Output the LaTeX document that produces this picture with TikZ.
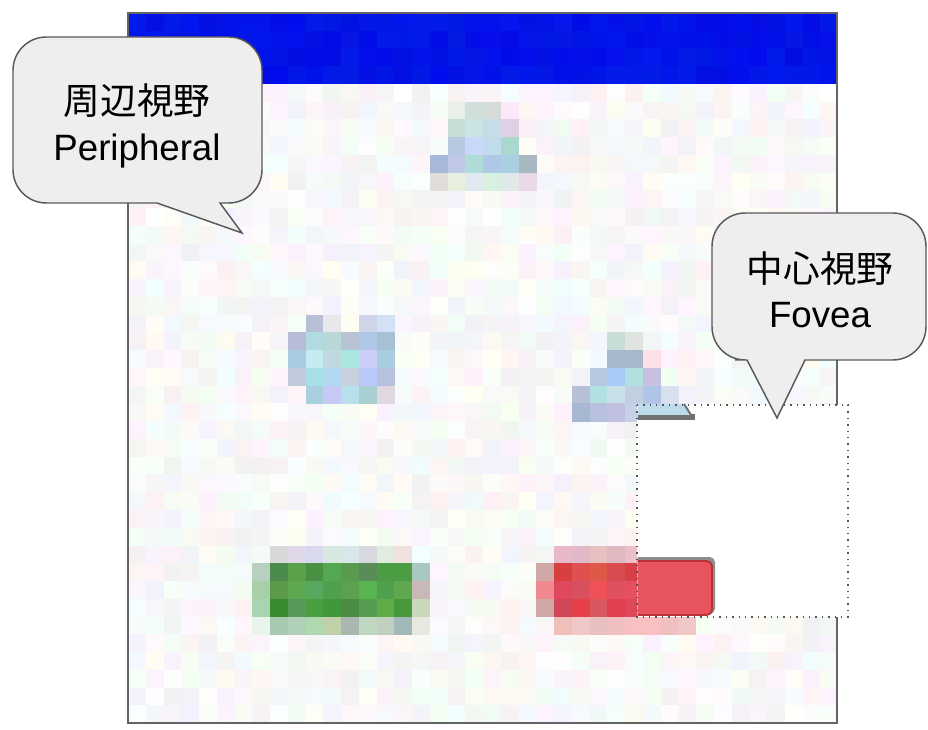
\documentclass[tikz,border=0pt]{standalone}
\usepackage{fontspec}
\setmainfont{Liberation Sans}
\newfontfamily\jpfont{Noto Sans CJK JP}
\usetikzlibrary{calc}

\definecolor{bubblefill}{HTML}{EEEEEE}
\definecolor{bubbleline}{HTML}{595959}
\definecolor{frameline}{HTML}{646464}
\definecolor{dotline}{HTML}{555555}
\definecolor{skyfill}{HTML}{BCDCEC}
\definecolor{shadowgray}{HTML}{707070}
\definecolor{redfill}{HTML}{E8545E}
\definecolor{redline}{HTML}{B8303C}

\newcommand\pxsize{17.75}

\begin{document}
\begin{tikzpicture}[
    x=0.75pt, y=-0.75pt,
    bubble/.style={fill=bubblefill, draw=bubbleline, line width=1.1pt},
    bubble text/.style={align=center, inner sep=0pt, font=\fontsize{27.5}{34}\selectfont},
    frame/.style={draw=frameline, line width=1.2pt},
    fovea/.style={fill=white, draw=dotline, line width=1.1pt, dash pattern=on 1.1pt off 3.7pt}
  ]
    \useasboundingbox (0,0) rectangle (928,730);
    \pgfmathsetseed{4242}
    % blue title bar
    \foreach \col in {0,...,39} {
      \foreach \row in {0,...,3} {
        \pgfmathrandominteger{\rv}{0}{4}
        \pgfmathrandominteger{\gv}{12}{26}
        \pgfmathrandominteger{\bv}{228}{238}
        \definecolor{cellcol}{RGB}{\rv,\gv,\bv}
        \fill[cellcol] ({128+\col*\pxsize},{13+\row*\pxsize}) rectangle ++(\pxsize+0.4,\pxsize+0.4);
      }
    }
    % faint noise of the low resolution screen
    \foreach \col in {0,...,39} {
      \foreach \row in {4,...,39} {
        \pgfmathrandominteger{\rv}{241}{255}
        \pgfmathrandominteger{\gv}{241}{255}
        \pgfmathrandominteger{\bv}{241}{255}
        \definecolor{cellcol}{RGB}{\rv,\gv,\bv}
        \fill[cellcol] ({128+\col*\pxsize},{13+\row*\pxsize}) rectangle ++(\pxsize+0.4,\pxsize+0.4);
      }
    }
    % coarse pixels of the shapes
    \foreach \c/\r/\h in {
      18/5/E8F0E8, 19/5/CFE0DA, 20/5/D8DCD8, 21/5/FBE8F8,
      18/6/C8DCD8, 19/6/C8E4E4, 20/6/C8DCE8, 21/6/E0D0E4, 22/6/FBEEF4,
      18/7/B8C8E0, 19/7/C8D8F8, 20/7/C0DCEC, 21/7/A8D8D0,
      17/8/A8B8D8, 18/8/C0C8E8, 19/8/B0DCD8, 20/8/B0C8E8, 21/8/A8D0E0, 22/8/A8B8C0,
      17/9/E0DCD8, 18/9/E8F0E0, 19/9/E0E8F0, 20/9/D8F0E0, 21/9/E0E8E8, 22/9/E8D8E8,
      10/17/B8C0D8, 11/17/E8E8EC, 13/17/D0D4E8, 14/17/D4E0F4,
      9/18/B8BCD8, 10/18/B0DCE0, 11/18/B8D8D8, 12/18/B8C4D4, 13/18/B0C8E8, 14/18/A8C0D4,
      9/19/A8CCE0, 10/19/C4ECF0, 11/19/C0D8E0, 12/19/A8E8E0, 13/19/CCCCF8, 14/19/A8CCE0,
      9/20/C0CCDC, 10/20/A8E0E8, 11/20/B0D8F0, 12/20/C8D0E0, 13/20/B8C8F8, 14/20/B8C0E0,
      10/21/A8D0E0, 11/21/C8C8F4, 12/21/B8E0EC, 13/21/A8D0D0, 14/21/E0D8E0,
      27/18/C8DCD8, 28/18/E0E4E0,
      27/19/A8B8CC, 28/19/A8B8CC, 29/19/FDE0E8,
      26/20/B8C8E0, 27/20/A8CCF8, 28/20/B0E0E0, 29/20/C8C0E0,
      25/21/B8C0D8, 26/21/B0E0E0, 27/21/C8E0E8, 28/21/C0D0E0, 29/21/B0C4E8, 30/21/D8E0F0,
      25/22/A8B8D0, 26/22/B8C0E0, 27/22/C0C0E0, 28/22/C8D0E8,
      8/30/D8D8D8, 9/30/E0D8E8, 10/30/D8D8F0, 11/30/D8E8E0, 12/30/D8E8E8, 13/30/D8D8E0, 14/30/E0ECE0, 15/30/F0E0E0,
      7/31/B8D0C0, 8/31/4A8A4A, 9/31/5AA048, 10/31/4A9044, 11/31/54A854, 12/31/5A9A50, 13/31/5A8C58, 14/31/4C9C44, 15/31/4C9C44, 16/31/A8C8C0,
      7/32/A8D0A8, 8/32/5A9A48, 9/32/60A850, 10/32/58A860, 11/32/50A050, 12/32/5CA050, 13/32/58B450, 14/32/50A050, 15/32/60A850, 16/32/C8B8B8,
      7/33/A8D4B0, 8/33/3A8A30, 9/33/5A9A58, 10/33/4AA040, 11/33/40983A, 12/33/4C8C44, 13/33/589C50, 14/33/60AC48, 15/33/48983C, 16/33/C8D8B8,
      7/34/E8F4EC, 8/34/A8C8B0, 9/34/B0D0B8, 10/34/B0D8B0, 11/34/C0D0A8, 12/34/A8B8B0, 13/34/C0D8C0, 14/34/C0D0C0, 15/34/A0B8B8, 16/34/E8E8E0,
      24/30/E8B8C8, 25/30/E0B8C8, 26/30/E8C0C0, 27/30/E0B8C0, 28/30/ECC0C8,
      23/31/D0A8A8, 24/31/D84040, 25/31/E05050, 26/31/E05848, 27/31/D84C50, 28/31/D84048,
      23/32/F08890, 24/32/E04860, 25/32/D85060, 26/32/F05058, 27/32/E05060, 28/32/E85060,
      23/33/D0A8A8, 24/33/D04858, 25/33/E84048, 26/33/D85860, 27/33/E04050, 28/33/E04858,
      24/34/F0C0B8, 25/34/F0C8C8, 26/34/E8C0C0, 27/34/F0C0C0, 28/34/F8C0C0, 29/34/F8C0C0, 30/34/F0C0C0, 31/34/F0C8C8} {
      \definecolor{cellcol}{HTML}{\h}
      \fill[cellcol] ({128+\c*\pxsize},{13+\r*\pxsize}) rectangle ++(\pxsize+0.4,\pxsize+0.4);
    }
    \draw[frame] (128,13) rectangle (837,723);

    % sharp area around the gaze point
    \draw[fovea] (637,405) rectangle (848,617);
    \begin{scope}
      \clip (637.6,404) rectangle (848,616.5);
      \fill[shadowgray] (600,414) -- (695,414) -- (695,420) -- (600,420) -- cycle;
      \fill[skyfill] (600,404) -- (684,404) -- (692,415) -- (600,415) -- cycle;
      \draw[shadowgray, line width=1.5pt] (684,404) -- (693,418);
      \fill[shadowgray!80, rounded corners=4] (600,557) rectangle (715,614);
      \draw[redline, fill=redfill, line width=1.4pt, rounded corners=4] (600,561) rectangle (712,615);
    \end{scope}
    \draw[fovea, fill=none] (637,405) rectangle (848,617);

    % speech bubbles
    \draw[bubble] (13,120) [rounded corners=25] |- (262,37) -- (262,203)
      [sharp corners] -- (220,203) -- (242,233) -- (157,203) -- (140,203)
      [rounded corners=25] -| (13,120) -- cycle;
    \draw[bubble] (712,290) [rounded corners=25] |- (926,213) -- (926,360)
      [sharp corners] -- (805,360) -- (777,418) -- (747,360) -- (735,360)
      [rounded corners=25] -| (712,290) -- cycle;
    \node[bubble text] (periph) at (137,126) {{\jpfont 周辺視野}\\Peripheral};
    \node[bubble text] (foveal) at (820,290) {{\jpfont 中心視野}\\Fovea};
\end{tikzpicture}
\end{document}
